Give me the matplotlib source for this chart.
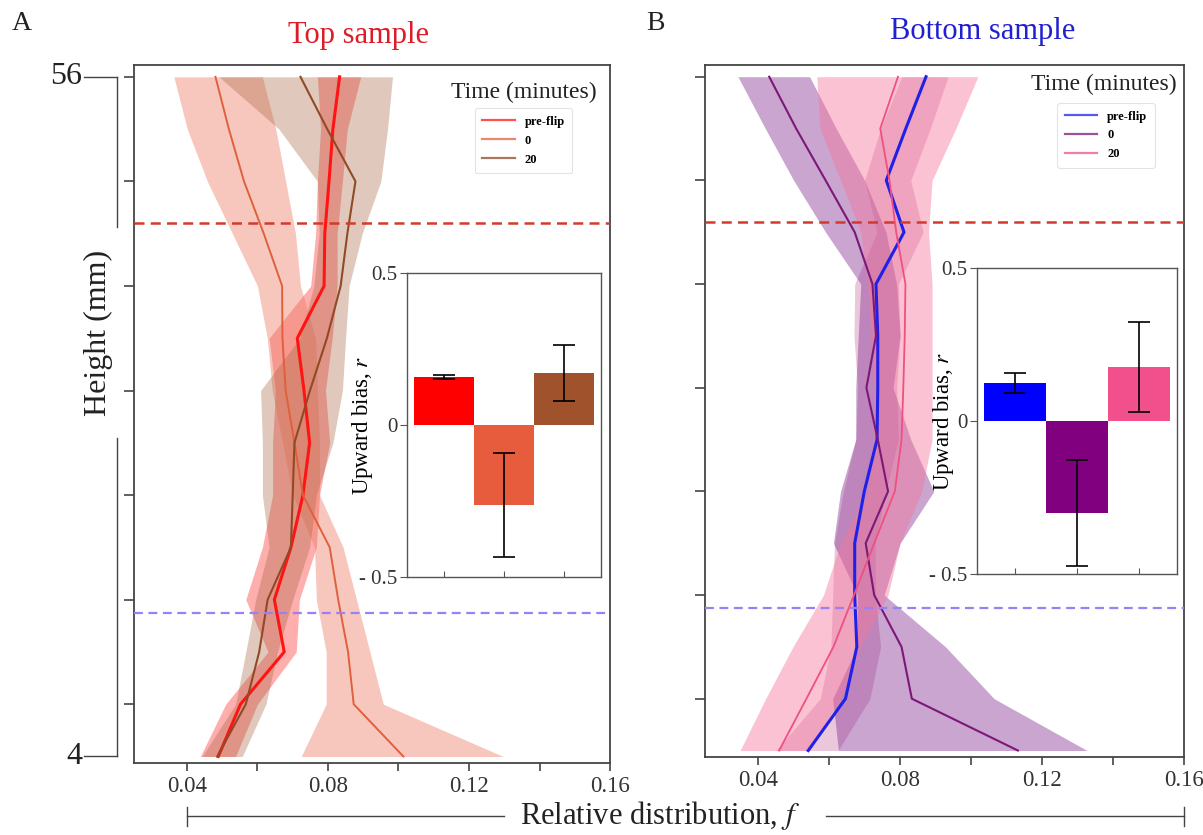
import numpy as np
import matplotlib.pyplot as plt
import matplotlib.transforms as mtransforms
from matplotlib.lines import Line2D

plt.rcParams['font.family'] = ['Liberation Serif', 'DejaVu Serif']
plt.rcParams['mathtext.fontset'] = 'stix'

# heights of the bins (mm), top to bottom
heights = [56, 52, 48, 44, 40, 36, 32, 28, 24, 20, 16, 12, 8, 4]

# top sample: relative distribution f, mean and band
top_pre = [0.0833, 0.0814, 0.0803, 0.0791, 0.0789, 0.0713, 0.0732, 0.0748, 0.0729, 0.0695, 0.0648, 0.0676, 0.0552, 0.0489]
top_pre_lo = [0.0770, 0.0779, 0.0770, 0.0765, 0.0751, 0.0633, 0.0651, 0.0643, 0.0643, 0.0614, 0.0567, 0.0630, 0.0510, 0.0438]
top_pre_hi = [0.0893, 0.0855, 0.0841, 0.0826, 0.0826, 0.0812, 0.0793, 0.0805, 0.0776, 0.0767, 0.0719, 0.0710, 0.0600, 0.0538]
top_0 = [0.0481, 0.0519, 0.0562, 0.0618, 0.0670, 0.0671, 0.0680, 0.0705, 0.0729, 0.0805, 0.0829, 0.0857, 0.0873, 0.1014]
top_0_lo = [0.0363, 0.0401, 0.0458, 0.0529, 0.0600, 0.0628, 0.0642, 0.0671, 0.0700, 0.0762, 0.0767, 0.0795, 0.0795, 0.0724]
top_0_hi = [0.0614, 0.0652, 0.0680, 0.0708, 0.0722, 0.0765, 0.0770, 0.0776, 0.0776, 0.0843, 0.0881, 0.0919, 0.0957, 0.1297]
top_20 = [0.0722, 0.0798, 0.0878, 0.0855, 0.0836, 0.0797, 0.0749, 0.0705, 0.0700, 0.0695, 0.0629, 0.0605, 0.0567, 0.0486]
top_20_lo = [0.0491, 0.0661, 0.0770, 0.0775, 0.0760, 0.0720, 0.0609, 0.0614, 0.0614, 0.0633, 0.0595, 0.0567, 0.0538, 0.0443]
top_20_hi = [0.0983, 0.0969, 0.0950, 0.0897, 0.0860, 0.0850, 0.0841, 0.0814, 0.0767, 0.0748, 0.0700, 0.0657, 0.0624, 0.0557]

# bottom sample
bot_pre = [0.0873, 0.0816, 0.0761, 0.0811, 0.0732, 0.0737, 0.0737, 0.0735, 0.0699, 0.0672, 0.0672, 0.0678, 0.0646, 0.0541]
bot_pre_lo = [0.0805, 0.0745, 0.0700, 0.0735, 0.0672, 0.0670, 0.0680, 0.0675, 0.0640, 0.0615, 0.0610, 0.0605, 0.0575, 0.0450]
bot_pre_hi = [0.0935, 0.0885, 0.0830, 0.0865, 0.0795, 0.0800, 0.0790, 0.0795, 0.0760, 0.0730, 0.0730, 0.0745, 0.0715, 0.0625]
bot_0 = [0.0431, 0.0507, 0.0590, 0.0672, 0.0722, 0.0732, 0.0705, 0.0737, 0.0766, 0.0703, 0.0727, 0.0804, 0.0833, 0.1132]
bot_0_lo = [0.0343, 0.0420, 0.0500, 0.0590, 0.0689, 0.0682, 0.0675, 0.0675, 0.0632, 0.0612, 0.0680, 0.0679, 0.0610, 0.0626]
bot_0_hi = [0.0545, 0.0620, 0.0700, 0.0760, 0.0790, 0.0800, 0.0780, 0.0830, 0.0895, 0.0800, 0.0755, 0.0928, 0.1065, 0.1327]
bot_20 = [0.0794, 0.0744, 0.0770, 0.0789, 0.0815, 0.0813, 0.0809, 0.0804, 0.0785, 0.0727, 0.0670, 0.0612, 0.0536, 0.0459]
bot_20_lo = [0.0565, 0.0574, 0.0632, 0.0689, 0.0708, 0.0718, 0.0727, 0.0727, 0.0708, 0.0632, 0.0584, 0.0498, 0.0421, 0.0349]
bot_20_hi = [0.1019, 0.0957, 0.0890, 0.0880, 0.0890, 0.0890, 0.0890, 0.0890, 0.0861, 0.0800, 0.0766, 0.0689, 0.0632, 0.0545]

time_labels = ['pre-flip', '0', '20']

# upward bias r (insets)
top_bias = [0.158, -0.263, 0.171]
top_bias_err = [0.008, 0.171, 0.092]
bot_bias = [0.124, -0.300, 0.176]
bot_bias_err = [0.033, 0.173, 0.147]

upper_mark = 44.8
lower_mark = 15.0

x_major = [0.04, 0.08, 0.12, 0.16]
x_minor = [0.06, 0.10, 0.14]
y_ticks = [56, 48, 40, 32, 24, 16, 8]

fig = plt.figure(figsize=(12.03, 8.35), dpi=100)
axA = fig.add_axes([0.1114, 0.0862, 0.3957, 0.8359])
axB = fig.add_axes([0.5860, 0.0934, 0.3982, 0.8287])


def panel(ax, series, legend_xy, title_xy):
    for mean, lo, hi, c_line, c_band, a_band, lw, lab in series:
        ax.fill_betweenx(heights, lo, hi, color=c_band, alpha=a_band, lw=0)
    handles = []
    for mean, lo, hi, c_line, c_band, a_band, lw, lab in series:
        h, = ax.plot(mean, heights, color=c_line, lw=lw, label=lab, zorder=3)
        handles.append(h)
    ax.axhline(upper_mark, color='#d43a2c', lw=1.8, ls=(0, (4, 2.5)), zorder=4)
    ax.axhline(lower_mark, color='#9a80f2', lw=1.6, ls=(0, (4, 2.5)), zorder=4)
    ax.set_xlim(0.025, 0.16)
    ax.set_ylim(3.5, 56.9)
    ax.set_xticks(x_major)
    ax.set_xticklabels(['0.04', '0.08', '0.12', '0.16'])
    ax.set_xticks(x_minor, minor=True)
    ax.set_yticks(y_ticks)
    ax.set_yticklabels([])
    ax.tick_params(axis='x', which='both', length=6, width=1.2, color='#444',
                   labelsize=16.5, labelcolor='#333', pad=3)
    ax.tick_params(axis='y', length=7, width=1.2, color='#444')
    for s in ax.spines.values():
        s.set_linewidth(1.3)
        s.set_color('#444')
    leg = ax.legend(handles=handles, loc='upper left', bbox_to_anchor=legend_xy,
                    borderaxespad=0, frameon=True, handlelength=2.6,
                    handletextpad=0.8, labelspacing=0.55, borderpad=0.6,
                    prop={'family': 'Liberation Serif', 'weight': 'bold', 'size': 9})
    leg.get_frame().set_edgecolor('#dddddd')
    leg.get_frame().set_linewidth(0.8)
    for h in leg.get_lines():
        h.set_alpha(0.75)
        h.set_linewidth(1.6)
    ax.text(title_xy[0], title_xy[1], 'Time (minutes)', transform=ax.transAxes,
            ha='center', va='center', fontsize=17, color='#222')


panel(axA, [
    (top_pre, top_pre_lo, top_pre_hi, '#ff1414', '#ff2a2a', 0.38, 2.2, time_labels[0]),
    (top_0, top_0_lo, top_0_hi, '#e0603c', '#ee7a62', 0.42, 1.4, time_labels[1]),
    (top_20, top_20_lo, top_20_hi, '#8f4a26', '#a8663f', 0.35, 1.5, time_labels[2]),
], (0.716, 0.938), (0.819, 0.961))

panel(axB, [
    (bot_pre, bot_pre_lo, bot_pre_hi, '#2020e8', '#c04888', 0.30, 2.2, time_labels[0]),
    (bot_0, bot_0_lo, bot_0_hi, '#7b1878', '#7f2a8f', 0.42, 1.5, time_labels[1]),
    (bot_20, bot_20_lo, bot_20_hi, '#f05080', '#f5789c', 0.45, 1.3, time_labels[2]),
], (0.735, 0.945), (0.833, 0.9725))


def inset(rect, vals, errs, colors, label_x):
    ax = fig.add_axes(rect)
    ax.bar(range(len(vals)), vals, width=1.0, color=colors, zorder=2)
    ax.errorbar(range(len(vals)), vals, yerr=errs, fmt='none', ecolor='black',
                elinewidth=1.2, capsize=8, capthick=1.2, zorder=3)
    ax.set_xlim(-0.62, 2.62)
    ax.set_ylim(-0.5, 0.5)
    ax.set_xticks(range(len(vals)))
    ax.set_xticklabels([])
    ax.set_yticks([-0.5, 0, 0.5])
    ax.set_yticklabels(['- 0.5', '0', '0.5'])
    ax.tick_params(axis='x', direction='in', length=4, color='#555')
    ax.tick_params(axis='y', length=5, color='#555', labelsize=15, labelcolor='#333', pad=2)
    ax.set_ylabel('Upward bias, $r$', fontsize=16.5)
    ax.yaxis.set_label_coords(label_x, 0.5)
    for s in ax.spines.values():
        s.set_linewidth(1.0)
        s.set_color('#555')
    return ax


inset([0.3383, 0.3090, 0.1613, 0.3641], top_bias, top_bias_err,
      ['#ff0000', '#e85c3e', '#a0522d'], -0.165)
inset([0.8121, 0.3126, 0.1663, 0.3665], bot_bias, bot_bias_err,
      ['#0000ff', '#800080', '#f2508c'], -0.105)

# outer height scale on panel A
trY = mtransforms.blended_transform_factory(fig.transFigure, axA.transData)
for yv, lab in [(56, '56'), (4, '4')]:
    fig.add_artist(Line2D([0.0698, 0.0973], [yv, yv], transform=trY, color='#444', lw=1.0))
    fig.text(0.0682, yv, lab, transform=trY, ha='right', va='center', fontsize=23, color='#222')
fig.add_artist(Line2D([0.0973, 0.0973], [56, 44.5], transform=trY, color='#444', lw=1.0))
fig.add_artist(Line2D([0.0973, 0.0973], [28.4, 4], transform=trY, color='#444', lw=1.0))
fig.text(0.0815, 36.4, 'Height (mm)', transform=trY, rotation=90, ha='center', va='center',
         fontsize=23, color='#222')

# outer f scale spanning both panels
trA = mtransforms.blended_transform_factory(axA.transData, fig.transFigure)
trB = mtransforms.blended_transform_factory(axB.transData, fig.transFigure)
fig.add_artist(Line2D([0.04, 0.04], [0.0108, 0.0335], transform=trA, color='#444', lw=1.0))
fig.add_artist(Line2D([0.04, 0.130], [0.0228, 0.0228], transform=trA, color='#444', lw=1.0))
fig.add_artist(Line2D([0.16, 0.16], [0.0108, 0.0335], transform=trB, color='#444', lw=1.0))
fig.add_artist(Line2D([0.059, 0.16], [0.0228, 0.0228], transform=trB, color='#444', lw=1.0))
fig.text(0.5486, 0.0228, 'Relative distribution, $f$', ha='center', va='center',
         fontsize=22, color='#222')

fig.text(359 / 1203, 1 - 35 / 835, 'Top sample', ha='center', va='center', fontsize=22, color='#dd1c28')
fig.text(983 / 1203, 1 - 32 / 835, 'Bottom sample', ha='center', va='center', fontsize=22, color='#2020d0')
fig.text(12 / 1203, 1 - 24 / 835, 'A', ha='left', va='center', fontsize=20, color='#222')
fig.text(646 / 1203, 1 - 24 / 835, 'B', ha='left', va='center', fontsize=20, color='#222')

fig.savefig('out.png', dpi=100)
